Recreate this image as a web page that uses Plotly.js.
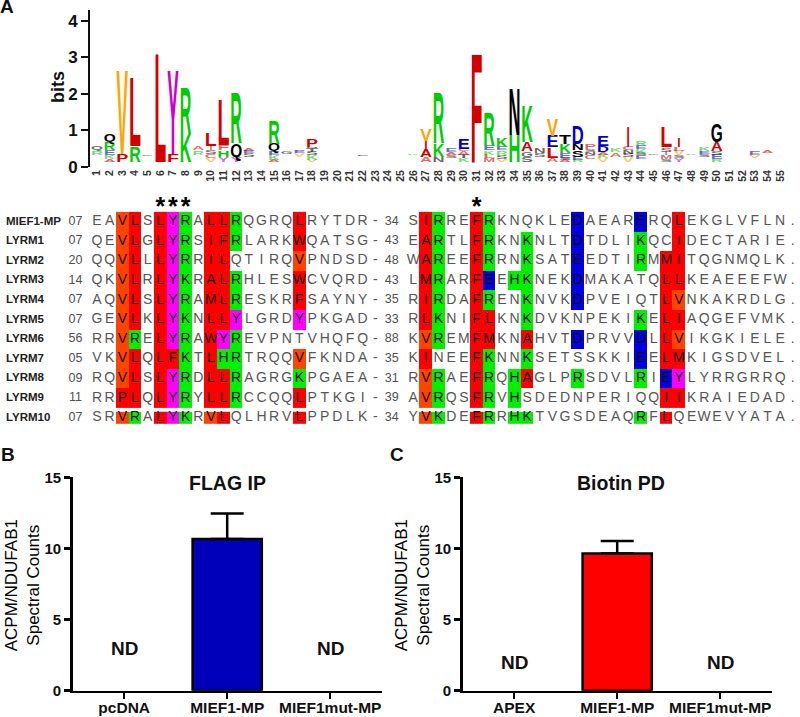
<!DOCTYPE html>
<html>
<head>
<meta charset="utf-8">
<script src="https://cdn.plot.ly/plotly-3.0.1.min.js"></script>
<style>html,body{margin:0;padding:0;background:#fff}#chart{width:800px;height:717px}</style>
</head>
<body>
<div id="chart"></div>
<script>
// ---------- Panel A: sequence logo, bottom-to-top stack per position: [letter, bits]; '' is an empty gap
const logoStacks = {
  1:[['',.2],['R',.12],['Q',.11]],
  2:[['A',.08],['K',.12],['E',.13],['R',.23],['Q',.2]],
  3:[['P',.22],['V',2.38]],
  4:[['R',.45],['L',1.92]],
  5:[['',.17],['G',.03]],
  6:[['L',3.05]],
  7:[['F',.22],['Y',2.38]],
  8:[['K',.78],['R',1.3]],
  9:[['',.2],['R',.12],['A',.12]],
  10:[['V',.1],['C',.12],['S',.1],['I',.13],['L',.35]],
  11:[['Y',.15],['H',.17],['F',.15],['L',1.28]],
  12:[['Y',.15],['Q',.36],['R',1.42]],
  13:[['',.15],['S',.1],['E',.06],['A',.07]],
  15:[['A',.06],['K',.13],['E',.11],['Q',.2],['R',.66]],
  16:[['',.22],['G',.08]],
  17:[['',.14],['V',.11],['E',.06],['A',.05]],
  18:[['V',.05],['K',.13],['S',.1],['T',.1],['N',.04],['P',.21]],
  22:[['',.17],['E',.03]],
  26:[['',.18],['K',.03]],
  27:[['A',.13],['A',.2],['I',.24],['V',.33]],
  28:[['N',.15],['K',.37],['R',1.43]],
  29:[['',.12],['S',.07],['A',.08],['E',.09]],
  30:[['K',.1],['T',.1],['A',.1],['C',.06],['E',.27]],
  31:[['F',3.05]],
  32:[['M',.1],['L',.1],['K',.12],['E',.13],['R',.93]],
  33:[['V',.08],['S',.12],['R',.12],['E',.1],['K',.25]],
  34:[['H',.75],['N',1.32]],
  35:[['S',.15],['G',.15],['A',.25],['K',1]],
  36:[['',.14],['S',.1],['N',.14]],
  37:[['A',.1],['L',.3],['E',.32],['V',.46]],
  38:[['A',.05],['S',.07],['E',.13],['K',.24],['T',.26]],
  39:[['R',.06],['E',.09],['S',.18],['N',.17],['D',.5]],
  40:[['',.08],['C',.12],['N',.08],['S',.08],['P',.14]],
  41:[['V',.1],['K',.1],['A',.08],['D',.17],['E',.27]],
  42:[['',.15],['A',.12],['K',.1]],
  43:[['V',.13],['S',.1],['N',.1],['C',.09],['I',.58]],
  44:[['',.07],['E',.11],['S',.05],['K',.13],['E',.09],['R',.14]],
  45:[['',.19],['G',.03]],
  46:[['S',.08],['M',.1],['I',.1],['S',.12],['L',.57]],
  47:[['Y',.1],['S',.08],['V',.13],['L',.1],['I',.24]],
  48:[['',.18],['K',.03]],
  49:[['',.14],['S',.07],['E',.08],['K',.09]],
  50:[['R',.07],['E',.13],['S',.1],['A',.26],['G',.5]],
  53:[['',.12],['V',.08],['E',.12]],
  54:[['',.24],['A',.05]]
};
const logoPositions = Array.from({length:55},(_,i)=>i+1);
const letterColors = {A:'212,0,0',C:'212,0,0',F:'212,0,0',I:'212,0,0',L:'212,0,0',M:'212,0,0',P:'212,0,0',W:'212,0,0',
  R:'0,204,0',K:'0,204,0',H:'0,204,0',D:'0,0,204',E:'0,0,204',
  N:'0,0,0',Q:'0,0,0',S:'0,0,0',T:'0,0,0',G:'0,0,0',Y:'204,0,204',V:'255,165,0'};

// ---------- Panel A: alignment
const seqNames = ['MIEF1-MP','LYRM1','LYRM2','LYRM3','LYRM4','LYRM5','LYRM6','LYRM7','LYRM8','LYRM9','LYRM10'];
const startNums = ['07','07','20','14','07','07','56','05','09','11','07'];
const midNums   = ['34','43','48','43','35','33','88','35','31','39','34'];
const block1 = ['EAVLSLYRALLRQGRQLRYTDR-','QEVLGLYRSIFRLARKWQATSG-','QQVLLLYRRILQTIRQVPNDSD-','QKVLRLYKRALRHLESWCVQRD-',
  'AQVLSLYRAMLRESKRFSAYNY-','GEVLKLYKNLLYLGRDYPKGAD-','RRVRELYRAWYREVPNTVHQFQ-','VKVLQLFKTLHRTRQQVFKNDA-',
  'RQVLSLYRDLLRAGRGKPGAEA-','RRPLQLYRYLLRCCQQLPTKGI-','SRVRALYKRVLQLHRVLPPDLK-'];
const block2 = ['SIRREFRKNQKLEDAEARERQLEKGLVFLN.','EARTLFRKNKNLTDTDLIKQCIDECTARIE.','WAREEFRRNKSATEEDTIRMMITQGNMQLK.',
  'LMRARFEEHKNEKDMAKATQLLKEAEEEFW.','RIRDAFRENKNVKDPVEIQTLVNKAKRDLG.','RLKNIFLKNKDVKNPEKIKELIAQGEFVMK.',
  'KVREMFMKNAHVTDPRVVDLLVIKGKIELE.','KINEEFKNNKSETSSKKIEELMKIGSDVEL.','RVRAEFRQHAGLPRSDVLRIEYLYRRGRRQ.',
  'AVRQSFRVHSDEDNPERIQQIIKRAIEDAD.','YVKDEFRRHKTVGSDEAQRFLQEWEVYATA.'];
// highlight per residue: r red, o orange-red, g green, b blue, m magenta, . none
const mask1 = ['..or.rmg.rrg....r......','..or.rmg.rrg....r......','..or.rmg.rr.....o......','..or.rmg.rrg....r......',
  '..or.rmg.rrg....r......','..or.rmg.rrm....m......','..og.rmg.rmg...........','..or.rrg.rgg....o......',
  '..or.rmg.rrg....g......','..rr.rmg.rrg....r......','..og.rmg.or.....r......'];
const mask2 = ['.rg..rg......b....b..r.........','.rg..rg..g...b....g..r.........','.rg..rg..g...b....g.rr.........',
  '.rg..rb.gg...b......rr.........','.rg..rg..g...b......ro.........','.rg..rr..g........g.rr.........',
  '.og..rr..r...b....b.ro.........','.r...rg..g........b.rr.........','.og..rg.gr...g....g.bm.........',
  '.og..rg.g...........rr.........','.og..rg.gg........g.r..........'];
const starPositions = [6,7,8,31];

// ---------- Panels B and C
const catsB = ['pcDNA','MIEF1-MP','MIEF1mut-MP'];
const catsC = ['APEX','MIEF1-MP','MIEF1mut-MP'];
const valuesB = [null,10.66,null];
const valuesC = [null,9.65,null];
const errB = [0,1.8,0];
const errC = [0,0.87,0];
const ndLevelB = 2.95;
const ndLevelC = 1.95;

// ---------- build
const FONT = '"Liberation Sans", Arial, sans-serif';
const W = 800, H = 717;
const xRange = [1-97/12.65, 1+(800-97)/12.65];
const dom = (a,b)=>[1-b/H,1-a/H];

const lx=[],lb=[],lh=[],lt=[],lc=[];
for (const p of Object.keys(logoStacks)) {
  let base=0;
  for (const [ch,h] of logoStacks[p]) {
    if (ch) { lx.push(+p); lb.push(base); lh.push(h); lt.push(ch);
      lc.push(`rgba(${letterColors[ch]},${h<.16?.6:1})`); }
    base += h;
  }
}

const codeVal = {r:1,o:2,g:3,b:4,m:5};
const cols = Array.from({length:56},(_,i)=>i+1);
const zRows = seqNames.map((_,r)=>{
  const m = mask1[r]+'..'+mask2[r];
  return cols.map((_,i)=>codeVal[m[i]]===undefined?null:codeVal[m[i]]);
});
const sx=[],sy=[],st=[],sc=[];
seqNames.forEach((_,r)=>{
  const s = block1[r]+'  '+block2[r];
  const m = mask1[r]+'..'+mask2[r];
  for (let i=0;i<s.length;i++){ if(s[i]===' ')continue;
    sx.push(i+1); sy.push(r); st.push(s[i]); sc.push(m[i]==='.'?'#565656':'#0c0c0c'); }
});
const hlScale = [[0,'#ff0000'],[.2,'#ff0000'],[.2,'#ff4400'],[.4,'#ff4400'],[.4,'#00f000'],[.6,'#00f000'],[.6,'#0000e0'],[.8,'#0000e0'],[.8,'#ff00ff'],[1,'#ff00ff']];
const rowIdx = seqNames.map((_,i)=>i);
const hmCommon = {type:'heatmap',x:cols,xaxis:'x2',yaxis:'y2',zmin:1,zmax:5,colorscale:hlScale,showscale:false,hoverinfo:'skip',zsmooth:false};

const traces = [
  {type:'scatter',mode:'text',x:lx,y:lb,text:lt,textposition:'top center',cliponaxis:false,
   textfont:{family:FONT,size:20,color:lc,weight:700},hoverinfo:'skip',xaxis:'x',yaxis:'y'},
  {...hmCommon,z:zRows.slice(0,10),y:[-.5,.5,1.5,2.5,3.5,4.5,5.5,6.5,7.5,8.5,9.5]},
  {...hmCommon,z:zRows.slice(10),y:[9.7,10.3]},
  {type:'scatter',mode:'text',x:sx,y:sy,text:st,textposition:'middle center',cliponaxis:false,
   textfont:{family:FONT,size:14,color:sc},hoverinfo:'skip',xaxis:'x2',yaxis:'y2'},
  {type:'scatter',mode:'text',x:seqNames.map(()=>1+(6-97)/12.65),y:rowIdx,text:seqNames,textposition:'middle right',cliponaxis:false,
   textfont:{family:FONT,size:11.5,color:'#222',weight:700},hoverinfo:'skip',xaxis:'x2',yaxis:'y2'},
  {type:'scatter',mode:'text',x:seqNames.map(()=>-.7),y:rowIdx,text:startNums,textposition:'middle center',cliponaxis:false,
   textfont:{family:FONT,size:12.5,color:'#505050'},hoverinfo:'skip',xaxis:'x2',yaxis:'y2'},
  {type:'scatter',mode:'text',x:seqNames.map(()=>24.3),y:rowIdx,text:midNums,textposition:'middle center',cliponaxis:false,
   textfont:{family:FONT,size:12.5,color:'#505050'},hoverinfo:'skip',xaxis:'x2',yaxis:'y2'},
  {type:'scatter',mode:'text',x:starPositions,y:starPositions.map(()=>-0.68),text:starPositions.map(()=>'*'),textposition:'middle center',cliponaxis:false,
   textfont:{family:FONT,size:25,color:'#000',weight:700},hoverinfo:'skip',xaxis:'x2',yaxis:'y2'},
  {type:'bar',x:catsB,y:valuesB,width:.672,marker:{color:'#0000bb',line:{color:'#000',width:2.5}},
   error_y:{type:'data',symmetric:false,array:errB,arrayminus:[0,0,0],color:'#000',thickness:2.5,width:16.5},hoverinfo:'skip',xaxis:'x3',yaxis:'y3'},
  {type:'bar',x:catsC,y:valuesC,width:.672,marker:{color:'#ff0000',line:{color:'#000',width:2.5}},
   error_y:{type:'data',symmetric:false,array:errC,arrayminus:[0,0,0],color:'#000',thickness:2.5,width:16.5},hoverinfo:'skip',xaxis:'x4',yaxis:'y4'}
];

const barX = (a,b,y)=>({domain:[a/W,b/W],anchor:y,type:'category',range:[-.5,2.5],showline:true,linecolor:'#000',linewidth:2.5,
  ticks:'outside',ticklen:6,tickwidth:2.5,tickcolor:'#000',showgrid:false,zeroline:false,fixedrange:true,tickangle:0,ticklabelstandoff:-5,
  tickfont:{family:FONT,size:15.5,color:'#111',weight:700}});
const barY = (x)=>({domain:dom(477.3,690.7),anchor:x,range:[0,15],tickvals:[0,5,10,15],showline:true,linecolor:'#000',linewidth:2.5,
  ticks:'outside',ticklen:6,tickwidth:2.5,tickcolor:'#000',showgrid:false,zeroline:false,fixedrange:true,
  tickfont:{family:FONT,size:15,color:'#111',weight:700}});
const ann = (text,x,y,size,xref,yref,extra)=>Object.assign({text,x,y,xref,yref,showarrow:false,xanchor:'center',yanchor:'middle',
  font:{family:FONT,size,color:'#111',weight:700}},extra||{});
const yLabel = 'ACPM/NDUFAB1<br>Spectral Counts';
const regular = {font:{family:FONT,size:17,color:'#000'},textangle:-90};

const layout = {
  width:W,height:H,margin:{l:0,r:0,t:0,b:0},paper_bgcolor:'#fff',plot_bgcolor:'rgba(0,0,0,0)',showlegend:false,hovermode:false,
  barmode:'overlay',
  xaxis:{domain:[0,1],anchor:'y',range:xRange,tickvals:logoPositions,ticktext:logoPositions.map(String),tickangle:-90,
    showline:false,showgrid:false,zeroline:false,ticks:'',fixedrange:true,tickfont:{family:FONT,size:10.5,color:'#333',weight:700}},
  yaxis:{domain:dom(10,167),anchor:'free',position:89/W,range:[0,4.3],tickvals:[0,1,2,3,4],showline:true,linecolor:'#111',linewidth:2,
    ticks:'outside',ticklen:7,tickwidth:2,tickcolor:'#111',showgrid:false,zeroline:false,fixedrange:true,
    tickfont:{family:FONT,size:17,color:'#111',weight:700}},
  xaxis2:{domain:[0,1],anchor:'y2',range:xRange,visible:false,fixedrange:true},
  yaxis2:{domain:dom(190,430),anchor:'x2',range:[(430-221.7)/19.6,(190-221.7)/19.6],visible:false,fixedrange:true},
  xaxis3:barX(72.7,381.7,'y3'),
  yaxis3:barY('x3'),
  xaxis4:barX(462.7,771.7,'y4'),
  yaxis4:barY('x4'),
  annotations:[
    ann('A',7/W,1-7/H,19,'paper','paper'),
    ann('B',8/W,1-454/H,19,'paper','paper'),
    ann('C',397/W,1-454/H,19,'paper','paper'),
    ann('bits',58/W,1-87/H,18,'paper','paper',{textangle:-90}),
    ann(yLabel,22.3/W,1-585/H,17,'paper','paper',regular),
    ann(yLabel,412.3/W,1-585/H,17,'paper','paper',regular),
    ann('FLAG IP',1,15,19.5,'x3','y3',{yshift:-5.5}),
    ann('Biotin PD',1,15,19.5,'x4','y4',{yshift:-5.5,xshift:4}),
    ann('ND',0,ndLevelB,19,'x3','y3'),
    ann('ND',2,ndLevelB,19,'x3','y3'),
    ann('ND',0,ndLevelC,19,'x4','y4'),
    ann('ND',2,ndLevelC,19,'x4','y4')
  ]
};

const gd = document.getElementById('chart');
Plotly.newPlot(gd,traces,layout,{displayModeBar:false,staticPlot:true}).then(()=>{
  // stretch each logo letter to its information height, through the y axis scale
  const ya = gd._fullLayout.yaxis;
  const nodes = gd.querySelectorAll('.subplot.xy .scatterlayer .trace .textpoint text');
  const S = 20, CAP = 0.716, STACK = 12;
  nodes.forEach((n,i)=>{
    if (i>=lt.length) return;
    const cx=+n.getAttribute('x'), y0=+n.getAttribute('y');
    const by=ya.l2p(lb[i]), ty=ya.l2p(lb[i]+lh[i]);
    const adv=n.getBBox().width||S*0.7;
    const fx=(lt[i]==='I'?STACK*.28:STACK)/adv;
    const fy=(by-ty)/(CAP*S);
    n.setAttribute('transform',`translate(${cx},${by}) scale(${fx},${fy}) translate(${-cx},${-y0})`);
  });
});
</script>
</body>
</html>
